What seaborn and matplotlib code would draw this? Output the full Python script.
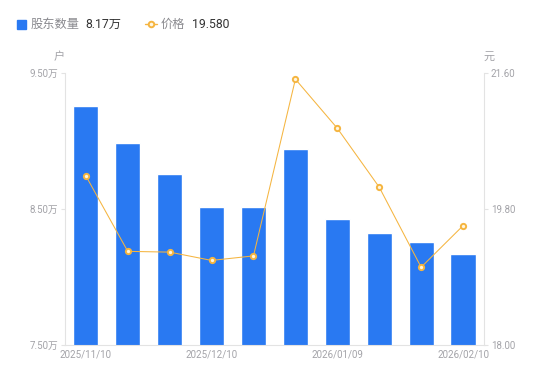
import numpy as np
import pandas as pd
import matplotlib.pyplot as plt
from matplotlib.lines import Line2D
from matplotlib.patches import Rectangle
import seaborn as sns

# data
dates = ['2025/11/10', '2025/11/20', '2025/11/30', '2025/12/10', '2025/12/19',
         '2025/12/31', '2026/01/09', '2026/01/20', '2026/01/30', '2026/02/10']
holders = [9.26, 8.985, 8.757, 8.515, 8.513, 8.94, 8.426, 8.324, 8.257, 8.17]   # 万户
price = [20.24, 19.24, 19.23, 19.12, 19.18, 21.52, 20.87, 20.09, 19.03, 19.58]  # 元
shown_dates = ['2025/11/10', '2025/12/10', '2026/01/09', '2026/02/10']
left_ticks = [7.5, 8.5, 9.5]
right_ticks = [18.0, 19.8, 21.6]

df = pd.DataFrame({'date': dates, 'holders': holders, 'price': price})

sns.set_style('white')
plt.rcParams['font.family'] = ['Roboto', 'Noto Sans CJK SC', 'DejaVu Sans']

bar_c = '#2979F2'
line_c = '#F5B540'
axis_c = '#E3E3E3'
tick_c = '#A3A3A8'

fig = plt.figure(figsize=(5.5, 3.81), dpi=100)
ax1 = fig.add_axes([0.118, 0.0945, 0.762, 0.7135])

sns.barplot(data=df, x='date', y='holders', color=bar_c, saturation=1,
            width=0.6, ax=ax1)
ax1.set_ylim(7.5, 9.5)
ax1.set_xlim(-0.5, len(dates) - 0.5)

ax2 = ax1.twinx()
sns.pointplot(data=df, x='date', y='price', color=line_c, ax=ax2,
              markers='o', markersize=3.8, linewidth=0.75,
              markerfacecolor='#FFF6E0', markeredgecolor=line_c,
              markeredgewidth=1.4)
ax2.set_ylim(18.0, 21.6)
ax2.set_xlim(-0.5, len(dates) - 0.5)

# ticks
idx = [dates.index(d) for d in shown_dates]
ax1.set_xticks(idx)
ax1.set_xticklabels(shown_dates)
ax1.set_yticks(left_ticks)
ax1.set_yticklabels([f'{v:.2f}万' for v in left_ticks])
ax2.set_yticks(right_ticks)
ax2.set_yticklabels([f'{v:.2f}' for v in right_ticks])
ax1.set_xlabel('')
ax1.set_ylabel('')
ax2.set_xlabel('')
ax2.set_ylabel('')

ax1.tick_params(axis='x', length=0, pad=3, labelsize=7, labelcolor=tick_c)
ax1.tick_params(axis='y', left=True, length=3, width=0.8, color=axis_c,
                pad=2, labelsize=7, labelcolor=tick_c)
ax2.tick_params(axis='y', right=True, length=3, width=0.8, color=axis_c,
                pad=2, labelsize=7, labelcolor=tick_c)

for ax in (ax1, ax2):
    ax.spines['top'].set_visible(False)
    for s in ('left', 'right', 'bottom'):
        ax.spines[s].set_color(axis_c)
        ax.spines[s].set_linewidth(0.8)
ax1.spines['right'].set_visible(False)
ax2.spines['left'].set_visible(False)
ax2.spines['bottom'].set_visible(False)

# units
fig.text(59 / 550, 1 - 57 / 381, '户', ha='center', va='center',
         fontsize=8, color=tick_c)
fig.text(489 / 550, 1 - 57 / 381, '元', ha='center', va='center',
         fontsize=8, color=tick_c)

# legend header
ly = 1 - 24 / 381
fig.patches.append(Rectangle((17 / 550, 1 - 28.5 / 381), 9 / 550, 9 / 381,
                             transform=fig.transFigure, color=bar_c))
fig.text(31 / 550, ly, '股东数量', ha='left', va='center', fontsize=8.8,
         color='#8A8A8F')
fig.text(85 / 550, ly, f'{holders[-1]:.2f}万', ha='left', va='center',
         fontsize=8.8, color='#333333')
fig.lines.append(Line2D([145 / 550, 157 / 550], [ly, ly],
                        transform=fig.transFigure, color=line_c, lw=1))
fig.lines.append(Line2D([151 / 550], [ly], transform=fig.transFigure,
                        marker='o', markersize=4, markerfacecolor='#FFF6E0',
                        markeredgecolor=line_c, markeredgewidth=1.4))
fig.text(161 / 550, ly, '价格', ha='left', va='center', fontsize=8.8,
         color='#8A8A8F')
fig.text(192 / 550, ly, f'{price[-1]:.3f}', ha='left', va='center',
         fontsize=8.8, color='#333333')

fig.savefig('out.png', dpi=100)
